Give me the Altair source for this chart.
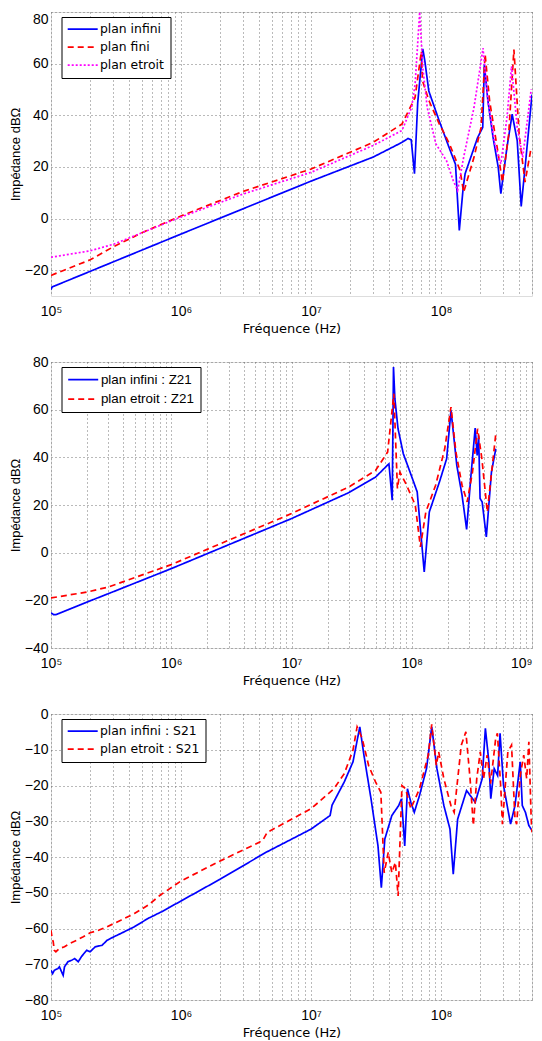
import altair as alt
import pandas as pd

# ---------------- Panel 1 : impedance (plan infini / fini / etroit) ----------------
p1_names = ["plan infini", "plan fini", "plan etroit"]
p1_colors = ["#0000FF", "#FF0000", "#FF00FF"]

p1_inf_f = [1.0e5, 1.02e5, 1e6, 1e7, 3.0e7, 5.0e7, 5.56e7, 5.89e7, 6.24e7, 6.61e7, 7.23e7, 7.5e7,
            8.04e7, 9.66e7, 1.15e8, 1.29e8, 1.38e8, 1.48e8, 1.53e8, 1.91e8, 2.09e8, 2.15e8, 2.29e8,
            2.51e8, 2.75e8, 2.88e8, 3.21e8, 3.52e8, 3.85e8, 4.13e8, 4.5e8, 5.0e8]
p1_inf_v = [-27.5, -26.5, -6.0, 14.5, 23.8, 29.5, 31.0, 30.5, 17.4, 45.0, 65.7, 61.0,
            49.4, 37.9, 27.6, 21.0, -4.6, 12.2, 17.4, 31.4, 35.3, 59.7, 45.6,
            31.4, 19.8, 9.6, 27.6, 40.4, 30.1, 4.7, 23.7, 48.0]

p1_fini_f = [1e5, 2e5, 3e5, 5e5, 1e6, 3e6, 1e7, 3e7, 5e7, 6.3e7, 7.05e7, 7.2e7, 8.07e7, 9.7e7,
             1.16e8, 1.4e8, 1.49e8, 1.79e8, 2.03e8, 2.18e8, 2.36e8, 2.75e8, 2.96e8, 3.31e8,
             3.63e8, 3.98e8, 4.42e8, 4.93e8]
p1_fini_v = [-22.0, -16.0, -11.0, -5.5, 1.0, 10.5, 19.2, 29.5, 36.6, 46.8, 64.8, 53.3, 45.6, 36.6,
             28.9, 18.6, 10.2, 23.7, 35.3, 63.6, 45.6, 25.0, 14.1, 32.7,
             65.5, 32.7, 14.1, 27.6]

p1_etr_f = [1e5, 2e5, 3e5, 5e5, 1e6, 3e6, 1e7, 3e7, 5e7, 5.93e7, 6.31e7, 6.84e7, 7.23e7, 7.82e7,
            9.12e7, 1.1e8, 1.24e8, 1.34e8, 1.49e8, 1.79e8, 1.96e8, 2.1e8, 2.29e8, 2.59e8,
            2.88e8, 3.21e8, 3.48e8, 3.85e8, 4.24e8, 4.93e8]
p1_etr_v = [-15.0, -12.5, -10.0, -5.5, 0.6, 9.5, 17.9, 28.3, 34.1, 43.0, 52.0, 80.0, 58.4, 43.0,
            28.9, 22.4, 14.7, 10.9, 23.7, 43.0, 55.9, 66.0, 45.6, 28.9,
            21.2, 39.1, 59.0, 35.3, 23.7, 50.0]

# ---------------- Panel 2 : Z21 ----------------
p2_names = ["plan infini : Z21", "plan etroit : Z21"]
p2_colors = ["#0000FF", "#FF0000"]

p2_inf_f = [1e5, 1.05e5, 1.1e5, 2e5, 3e5, 1e6, 1e7, 3e7, 5e7, 6.46e7, 6.88e7, 7.05e7, 7.24e7, 7.69e7,
            8.51e7, 9.68e7, 1.11e8, 1.27e8, 1.4e8, 1.7e8, 1.95e8, 2.12e8, 2.37e8, 2.62e8,
            2.86e8, 3.09e8, 3.37e8, 3.5e8, 3.6e8, 3.7e8, 3.85e8, 4.17e8, 4.6e8, 5.0e8]
p2_inf_v = [-25.2, -26.0, -26.0, -20.7, -17.2, -6.7, 14.3, 25.2, 31.7, 37.3, 22.0, 77.9, 64.6, 52.0,
            41.5, 33.8, 25.5, -8.1, 17.1, 29.7, 39.4, 59.7, 36.6, 24.1,
            9.8, 31.0, 52.3, 40.8, 49.2, 22.7, 21.3, 6.6, 33.8, 43.6]

p2_etr_f = [1e5, 2e5, 3e5, 1e6, 1e7, 3e7, 5e7, 6.3e7, 7.1e7, 7.44e7, 7.6e7, 7.97e7, 9.06e7, 1.07e8,
            1.18e8, 1.31e8, 1.58e8, 1.88e8, 2.12e8, 2.33e8, 2.62e8, 2.89e8, 3.2e8, 3.53e8,
            3.83e8, 4.25e8, 5.0e8]
p2_etr_v = [-19.0, -16.5, -14.4, -5.0, 16.4, 27.6, 34.5, 42.2, 66.7, 39.4, 26.9, 33.8, 28.3, 19.9,
            2.4, 17.1, 28.3, 43.6, 61.1, 42.2, 28.3, 21.3, 33.8, 52.0,
            39.4, 17.1, 49.9]

# ---------------- Panel 3 : S21 ----------------
p3_names = ["plan infini : S21", "plan etroit : S21"]
p3_colors = ["#0000FF", "#FF0000"]

p3_inf_f = [1.0e5, 1.03e5, 1.06e5, 1.13e5, 1.16e5, 1.24e5, 1.27e5, 1.35e5, 1.44e5, 1.52e5, 1.62e5,
            1.72e5, 1.88e5, 2.0e5, 2.19e5, 2.47e5, 2.7e5, 3.05e5, 3.44e5, 4.38e5, 5.57e5, 7.1e5,
            1e6, 2e6, 4.5e6, 1e7, 1.4e7, 1.45e7, 1.8e7, 2.1e7, 2.37e7, 2.55e7, 2.89e7, 3.27e7,
            3.47e7, 3.69e7, 4.18e7, 4.72e7, 4.96e7, 5.25e7, 5.51e7, 5.85e7, 6.22e7, 6.82e7,
            7.72e7, 8.47e7, 9.29e7, 1.05e8, 1.17e8, 1.24e8, 1.34e8, 1.57e8, 1.83e8, 2.07e8,
            2.19e8, 2.33e8, 2.41e8, 2.56e8, 2.72e8, 2.84e8, 3.02e8, 3.42e8, 3.7e8, 4.06e8,
            4.21e8, 4.45e8, 4.73e8, 5.0e8]
p3_inf_v = [-71.7, -72.6, -71.7, -71.2, -70.7, -73.1, -70.7, -69.3, -68.9, -68.4, -69.3,
            -67.8, -66.1, -66.5, -65.1, -64.7, -63.3, -62.3, -61.4, -59.5, -57.2, -55.3,
            -52.3, -46.2, -38.7, -32.2, -28.4, -25.5, -19.0, -13.4, -3.6, -11.5, -23.7, -36.9,
            -48.6, -35.0, -28.4, -25.6, -23.7, -36.9, -20.9, -24.7, -27.5, -22.8,
            -15.3, -3.6, -15.3, -25.6, -32.2, -44.8, -29.4, -21.4, -24.7, -18.1,
            -4.0, -13.4, -23.7, -15.3, -17.2, -5.4, -20.0, -30.8, -25.6, -13.4,
            -25.6, -27.5, -31.2, -32.6]

p3_etr_f = [1.0e5, 1.02e5, 1.04e5, 1.06e5, 1.09e5, 1.16e5, 1.27e5, 1.39e5, 1.57e5, 1.77e5, 2.0e5,
            2.32e5, 2.7e5, 3.44e5, 4.38e5, 5.57e5, 6.9e5, 1e6, 2e6, 4e6, 4.3e6, 4.6e6, 1e7,
            1.5e7, 1.8e7, 2.1e7, 2.26e7, 2.47e7, 2.77e7, 3.13e7, 3.33e7, 3.44e7, 3.65e7, 3.92e7,
            4.18e7, 4.45e7, 4.67e7, 5.0e7, 5.33e7, 5.85e7, 6.82e7, 7.96e7, 8.47e7, 9.18e7,
            9.58e7, 1.05e8, 1.19e8, 1.26e8, 1.43e8, 1.55e8, 1.67e8, 1.77e8, 1.88e8, 2.0e8,
            2.12e8, 2.26e8, 2.4e8, 2.63e8, 2.71e8, 2.88e8, 2.96e8, 3.26e8, 3.48e8, 3.7e8,
            3.81e8, 4.06e8, 4.32e8, 4.55e8, 4.73e8, 4.93e8, 5.0e8]
p3_etr_v = [-60.5, -62.8, -63.7, -66.1, -66.5, -65.6, -65.1, -64.2, -63.3, -62.3, -61.2,
            -60.5, -59.5, -57.7, -55.8, -53.5, -50.7, -46.7, -41.1, -35.9, -35.0, -33.1, -26.5,
            -20.9, -16.7, -10.1, -3.6, -6.8, -14.4, -19.0, -20.9, -21.9, -44.4, -38.7,
            -44.4, -41.5, -50.9, -20.0, -20.9, -26.5, -20.9, -11.5, -2.9, -14.4,
            -10.6, -18.1, -25.6, -27.5, -8.7, -5.0, -18.1, -31.2, -18.1, -10.6,
            -18.1, -11.5, -19.5, -6.8, -5.4, -20.9, -30.8, -10.6, -8.7, -29.4,
            -30.8, -17.2, -11.5, -18.1, -7.8, -29.4, -33.1]

# ---------------- Axis ticks / labels ----------------
x_decades = [1e5, 1e6, 1e7, 1e8, 1e9]
x_decade_labels = ["10⁵", "10⁶", "10⁷", "10⁸", "10⁹"]
x_grid_a = [1e5, 2e5, 3e5, 4e5, 5e5, 6e5, 7e5, 8e5, 9e5,
            1e6, 2e6, 3e6, 4e6, 5e6, 6e6, 7e6, 8e6, 9e6,
            1e7, 2e7, 3e7, 4e7, 5e7, 6e7, 7e7, 8e7, 9e7,
            1e8, 2e8, 3e8, 4e8, 5e8]
x_grid_b = x_grid_a + [6e8, 7e8, 8e8, 9e8, 1e9]

p1_yticks = [-20, 0, 20, 40, 60, 80]
p2_yticks = [-40, -20, 0, 20, 40, 60, 80]
p3_yticks = [-80, -70, -60, -50, -40, -30, -20, -10, 0]

y_title = "Impédance dBΩ"
x_title = "Fréquence (Hz)"

label_expr = " : ".join(
    f"abs(datum.value - {v:.0f}) < 1 ? '{t}'" for v, t in zip(x_decades, x_decade_labels)
) + " : ''"

W = 481
GRID = dict(grid=True, gridColor="#666666", gridDash=[1, 3], gridWidth=1, gridOpacity=0.9)
LEGEND_LINE = "M-3,0H3"   # 30 px long legend line sample at symbolSize 100


def frame(names, freqs, vals):
    rows = []
    for n, fs, vs in zip(names, freqs, vals):
        for f, v in zip(fs, vs):
            rows.append({"f": f, "v": v, "s": n})
    return pd.DataFrame(rows)


def panel(df, names, colors, dashes, widths, xdom, xgrid, ydom, yticks, height,
          legend_font, legend_size, legend_row_pad, y_flush=False, last_right=False):
    legend = alt.Legend(
        title=None, orient="none", legendX=10.5, legendY=5,
        fillColor="white", strokeColor="black", padding=6,
        symbolType=LEGEND_LINE, symbolSize=100, symbolStrokeWidth=1.8, symbolOffset=9,
        labelFont=legend_font, labelFontSize=legend_size, labelColor="black",
        labelOffset=11, rowPadding=legend_row_pad, labelLimit=300,
    )
    x_axis_kw = dict(
        values=xgrid, labelExpr=label_expr, title=x_title, ticks=False, domain=False,
        labelFont="Liberation Sans", labelFontSize=14, labelColor="black",
        labelPadding=8, labelFlush=False, labelOverlap=False, labelBound=False,
        titleFont="DejaVu Sans", titleFontSize=13, titleFontWeight="normal", titleColor="black",
        titleY=32, titleBaseline="middle", **GRID,
    )
    if last_right:
        x_axis_kw["labelAlign"] = alt.ExprRef(expr="datum.value > 999999999 ? 'right' : 'center'")
    y_axis = alt.Axis(
        values=yticks, title=y_title, ticks=False, domain=False,
        labelFont="Liberation Sans", labelFontSize=14, labelColor="black", labelPadding=3,
        labelFlush=y_flush,
        titleFont="Liberation Sans", titleFontSize=13, titleFontWeight="normal", titleColor="black",
        titleX=-36, titleY=height / 2, titleAngle=-90, titleBaseline="middle", titleAlign="center",
        **GRID,
    )
    return alt.Chart(df).mark_line(clip=True, strokeCap="butt").encode(
        x=alt.X("f:Q", scale=alt.Scale(type="log", domain=xdom, nice=False), axis=alt.Axis(**x_axis_kw)),
        y=alt.Y("v:Q", scale=alt.Scale(domain=ydom, nice=False, zero=False), axis=y_axis),
        color=alt.Color("s:N", scale=alt.Scale(domain=names, range=colors), legend=legend),
        strokeDash=alt.StrokeDash("s:N", scale=alt.Scale(domain=names, range=dashes), legend=legend),
        strokeWidth=alt.StrokeWidth("s:N", scale=alt.Scale(domain=names, range=widths), legend=None),
    ).properties(width=W, height=height)


df1 = frame(p1_names, [p1_inf_f, p1_fini_f, p1_etr_f], [p1_inf_v, p1_fini_v, p1_etr_v])
df2 = frame(p2_names, [p2_inf_f, p2_etr_f], [p2_inf_v, p2_etr_v])
df3 = frame(p3_names, [p3_inf_f, p3_etr_f], [p3_inf_v, p3_etr_v])

c1 = panel(df1, p1_names, p1_colors, [[1, 0], [6, 4], [2, 2]], [1.7, 1.7, 3.0],
           [1e5, 5e8], x_grid_a, [-30, 80], p1_yticks, 284,
           "DejaVu Sans", 12.4, 5, y_flush=True)
c2 = panel(df2, p2_names, p2_colors, [[1, 0], [6, 4]], [1.7, 1.7],
           [1e5, 1e9], x_grid_b, [-40, 80], p2_yticks, 286,
           "Liberation Sans", 13.4, 4.5, last_right=True)
c3 = panel(df3, p3_names, p3_colors, [[1, 0], [6, 4]], [1.7, 1.7],
           [1e5, 5e8], x_grid_a, [-80, 0], p3_yticks, 286,
           "DejaVu Sans", 12.4, 5)

chart = alt.vconcat(c1, c2, c3, spacing=18).resolve_scale(
    color="independent", strokeDash="independent", strokeWidth="independent"
).properties(
    padding={"left": 0, "top": 3, "right": 0, "bottom": 0}
).configure_view(stroke="black", strokeWidth=1).configure(background="white")

chart.save("out.html", embed_options={"renderer": "svg", "actions": False})
